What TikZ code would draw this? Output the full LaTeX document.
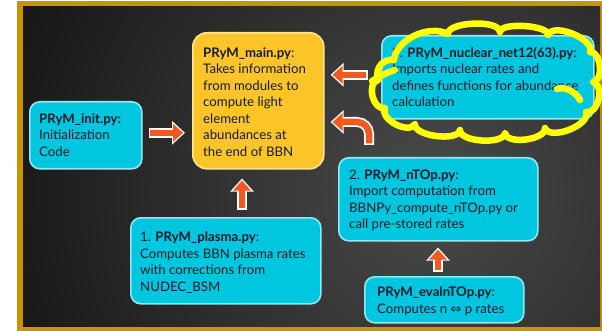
\documentclass[tikz,border=0pt]{standalone}
\usepackage{fontspec}
\setmainfont{Lato}
\newfontfamily\symfont{DejaVu Sans}
\usetikzlibrary{arrows.meta,calc}

\definecolor{framegold}{HTML}{CC9300}
\definecolor{boxcyan}{HTML}{00C6E0}
\definecolor{cyanedge}{HTML}{8FE9F5}
\definecolor{boxgold}{HTML}{FBC52A}
\definecolor{goldedge}{HTML}{FFE58C}
\definecolor{arroworange}{HTML}{F2591C}
\definecolor{ink}{HTML}{141B26}
\definecolor{marker}{HTML}{FFFF00}
\definecolor{glow}{HTML}{4A4A4A}

% multi-line label whose base is the first baseline
\newcommand\lines[1]{\begin{tabular}[t]{@{}l@{}}#1\end{tabular}}
% fat orange arrow with a white rim
\newcommand\blockarrow[1]{\draw[arrowrim] #1; \draw[arrowcore] #1;}

\begin{document}
\begin{tikzpicture}[x=1pt,y=-1pt,
  cyanbox/.style={draw=cyanedge, line width=1.6pt, fill=boxcyan,
    rounded corners=10pt, anchor=north west, inner sep=0pt},
  goldbox/.style={cyanbox, draw=goldedge, fill=boxgold, rounded corners=14pt},
  boxtext/.style={anchor=base west, inner sep=0pt, text=ink,
    font=\fontsize{13.2}{16.5}\selectfont},
  arrowrim/.style={draw=white, line width=10pt,
    -{Triangle[width=23pt,length=13pt]}},
  arrowcore/.style={draw=arroworange, line width=6.5pt,
    -{Triangle[width=17.5pt,length=10pt]}, shorten >=2pt, shorten <=1.6pt},
  cloudline/.style={draw=marker, line width=6.5pt, line cap=round, line join=round},
]
\useasboundingbox (0,0) rectangle (602,331);
\fill[white] (0,0) rectangle (602,331);

% gold frame and dark backdrop
\fill[framegold] (17,1) rectangle (602,331);
\begin{scope}
  \clip (23,7) rectangle (600,326);
  \fill[black] (23,7) rectangle (600,326);
  \shade[inner color=glow, outer color=black] (430,190) circle (640);
\end{scope}

% module boxes
\node[cyanbox, minimum width=112pt, minimum height=67pt] (init) at (29,101) {};
\node[goldbox, minimum width=131pt, minimum height=136pt] (main) at (192,32) {};
\node[cyanbox, minimum width=212pt, minimum height=83pt] (nuclear) at (381,35) {};
\node[cyanbox, minimum width=199pt, minimum height=83pt] (ntop) at (338,157) {};
\node[cyanbox, minimum width=190pt, minimum height=86pt] (plasma) at (130,217) {};
\node[cyanbox, minimum width=159pt, minimum height=46pt] (evalntop) at (364,276) {};

% box texts
\node[boxtext] (initT) at (39,123.5) {\lines{\textbf{PRyM\_init.py:}\\Initialization\\Code}};
\node[boxtext] (mainT) at (203,57.5) {\lines{\textbf{PRyM\_main.py}:\\Takes information\\from modules to\\compute light\\element\\abundances at\\the end of BBN}};
\node[boxtext] (nuclearT) at (392,57.5) {\lines{3. \textbf{PRyM\_nuclear\_net12(63).py}:\\Imports nuclear rates and\\defines functions for abundance\\calculation}};
\node[boxtext] (ntopT) at (349,179.5) {\lines{2. \textbf{PRyM\_nTOp.py}:\\Import computation from\\BBNPy\_compute\_nTOp.py or\\call pre-stored rates}};
\node[boxtext] (plasmaT) at (140,241.5) {\lines{1. \textbf{PRyM\_plasma.py}:\\Computes BBN plasma rates\\with corrections from\\NUDEC\_BSM}};
\node[boxtext] (evalntopT) at (377,296.5) {\lines{\textbf{PRyM\_evalnTOp.py}:\\Computes n {\symfont ⇔} p rates}};

% data flow arrows
\blockarrow{($(init.east)+(6,-2.5)$) -- ($(main.west |- init.east)+(-7,-2.5)$)}
\blockarrow{($(plasma.north west)+(112,-7)$) -- ($(plasma.north west |- main.south)+(112,9)$)}
\blockarrow{($(nuclear.west)+(-13,-2.5)$) -- ($(main.east |- nuclear.west)+(6,-2.5)$)}
\blockarrow{[rounded corners=12pt] ($(ntop.north west)+(31,-12)$) |- ($(main.east |- 0,122)+(6,0)$)}
\blockarrow{($(evalntop.north west)+(74,-4)$) -- ($(evalntop.north west |- ntop.south)+(74,6)$)}

% hand-drawn highlight cloud
\draw[cloudline] (394,60)
  .. controls (396,40) and (428,24) .. (448,34)
  .. controls (447,22) and (499,19) .. (500,32)
  .. controls (500,22) and (549,25) .. (548,35)
  .. controls (553,22) and (595,39) .. (590,52)
  .. controls (601,51) and (604,81) .. (593,82)
  .. controls (605,85) and (598,115) .. (586,112)
  .. controls (591,125) and (550,141) .. (545,128)
  .. controls (546,140) and (506,145) .. (505,133)
  .. controls (504,145) and (459,142) .. (460,130)
  .. controls (458,142) and (413,136) .. (415,124)
  .. controls (409,135) and (379,119) .. (385,108)
  .. controls (373,111) and (366,83) .. (378,80)
  .. controls (374,66) and (386,58) .. (394,60);
\draw[cloudline] (372,81) .. controls (380,76) and (388,72) .. (395,70);
\draw[cloudline] (557,89) .. controls (565,86) and (576,92) .. (580,100);
\end{tikzpicture}
\end{document}
